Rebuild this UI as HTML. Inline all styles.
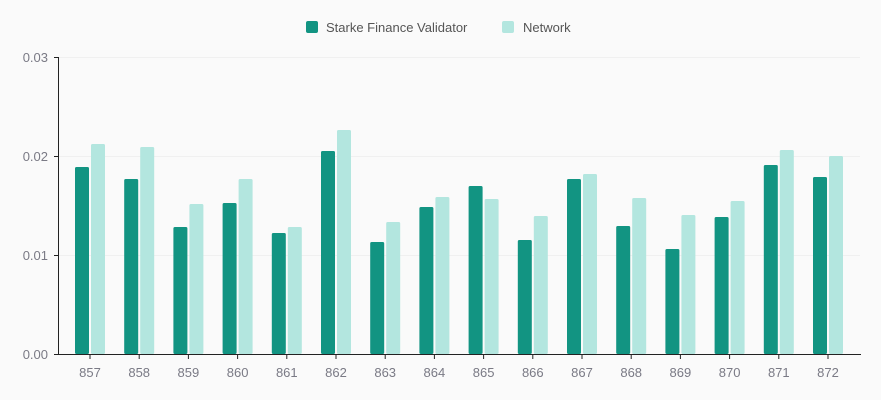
<!DOCTYPE html>
<html><head><style>body{margin:0;background:#fafafa}svg{display:block}text{font-family:"Liberation Sans",sans-serif}</style></head><body>
<svg width="881" height="400" xmlns="http://www.w3.org/2000/svg">
<rect width="881" height="400" fill="#fafafa"/>
<g stroke="#f0f0f0" stroke-width="1">
<line x1="58" y1="57.5" x2="860" y2="57.5"/><line x1="58" y1="156.5" x2="860" y2="156.5"/><line x1="58" y1="255.5" x2="860" y2="255.5"/>
</g>
<g font-size="13" fill="#7a7a85" text-anchor="end">
<text x="48" y="62">0.03</text><text x="48" y="161">0.02</text><text x="48" y="260">0.01</text><text x="48" y="359">0.00</text>
</g>
<g fill="#129482">
<rect x="75" y="167" width="14" height="187" rx="1.5"/>
<rect x="124.2" y="179" width="14" height="175" rx="1.5"/>
<rect x="173.4" y="227" width="14" height="127" rx="1.5"/>
<rect x="222.6" y="203" width="14" height="151" rx="1.5"/>
<rect x="271.8" y="233" width="14" height="121" rx="1.5"/>
<rect x="321" y="151" width="14" height="203" rx="1.5"/>
<rect x="370.2" y="242" width="14" height="112" rx="1.5"/>
<rect x="419.4" y="207" width="14" height="147" rx="1.5"/>
<rect x="468.6" y="186" width="14" height="168" rx="1.5"/>
<rect x="517.8" y="240" width="14" height="114" rx="1.5"/>
<rect x="567" y="179" width="14" height="175" rx="1.5"/>
<rect x="616.2" y="226" width="14" height="128" rx="1.5"/>
<rect x="665.4" y="249" width="14" height="105" rx="1.5"/>
<rect x="714.6" y="217" width="14" height="137" rx="1.5"/>
<rect x="763.8" y="165" width="14" height="189" rx="1.5"/>
<rect x="813" y="177" width="14" height="177" rx="1.5"/>
</g>
<g fill="#b3e6df">
<rect x="91" y="144" width="14" height="210" rx="1.5"/>
<rect x="140.2" y="147" width="14" height="207" rx="1.5"/>
<rect x="189.4" y="204" width="14" height="150" rx="1.5"/>
<rect x="238.6" y="179" width="14" height="175" rx="1.5"/>
<rect x="287.8" y="227" width="14" height="127" rx="1.5"/>
<rect x="337" y="130" width="14" height="224" rx="1.5"/>
<rect x="386.2" y="222" width="14" height="132" rx="1.5"/>
<rect x="435.4" y="197" width="14" height="157" rx="1.5"/>
<rect x="484.6" y="199" width="14" height="155" rx="1.5"/>
<rect x="533.8" y="216" width="14" height="138" rx="1.5"/>
<rect x="583" y="174" width="14" height="180" rx="1.5"/>
<rect x="632.2" y="198" width="14" height="156" rx="1.5"/>
<rect x="681.4" y="215" width="14" height="139" rx="1.5"/>
<rect x="730.6" y="201" width="14" height="153" rx="1.5"/>
<rect x="779.8" y="150" width="14" height="204" rx="1.5"/>
<rect x="829" y="156" width="14" height="198" rx="1.5"/>
</g>
<line x1="58.5" y1="57" x2="58.5" y2="355" stroke="#222"/>
<line x1="58" y1="354.5" x2="861" y2="354.5" stroke="#222"/>
<g stroke="#222"><line x1="54" y1="57.5" x2="58" y2="57.5"/><line x1="54" y1="156.5" x2="58" y2="156.5"/><line x1="54" y1="255.5" x2="58" y2="255.5"/><line x1="54" y1="354.5" x2="58" y2="354.5"/>
<line x1="90" y1="355" x2="90" y2="359"/><line x1="139.2" y1="355" x2="139.2" y2="359"/><line x1="188.4" y1="355" x2="188.4" y2="359"/><line x1="237.6" y1="355" x2="237.6" y2="359"/><line x1="286.8" y1="355" x2="286.8" y2="359"/><line x1="336" y1="355" x2="336" y2="359"/><line x1="385.2" y1="355" x2="385.2" y2="359"/><line x1="434.4" y1="355" x2="434.4" y2="359"/><line x1="483.6" y1="355" x2="483.6" y2="359"/><line x1="532.8" y1="355" x2="532.8" y2="359"/><line x1="582" y1="355" x2="582" y2="359"/><line x1="631.2" y1="355" x2="631.2" y2="359"/><line x1="680.4" y1="355" x2="680.4" y2="359"/><line x1="729.6" y1="355" x2="729.6" y2="359"/><line x1="778.8" y1="355" x2="778.8" y2="359"/><line x1="828" y1="355" x2="828" y2="359"/>
</g>
<g font-size="13" fill="#7a7a85" text-anchor="middle">
<text x="90" y="377">857</text><text x="139.2" y="377">858</text><text x="188.4" y="377">859</text><text x="237.6" y="377">860</text><text x="286.8" y="377">861</text><text x="336" y="377">862</text><text x="385.2" y="377">863</text><text x="434.4" y="377">864</text><text x="483.6" y="377">865</text><text x="532.8" y="377">866</text><text x="582" y="377">867</text><text x="631.2" y="377">868</text><text x="680.4" y="377">869</text><text x="729.6" y="377">870</text><text x="778.8" y="377">871</text><text x="828" y="377">872</text>
</g>
<rect x="306" y="21" width="12" height="12" rx="2" fill="#129482"/>
<text x="326" y="32" font-size="13" fill="#555">Starke Finance Validator</text>
<rect x="502" y="21" width="12" height="12" rx="2" fill="#b3e6df"/>
<text x="523" y="32" font-size="13" fill="#555">Network</text>
</svg>
</body></html>
